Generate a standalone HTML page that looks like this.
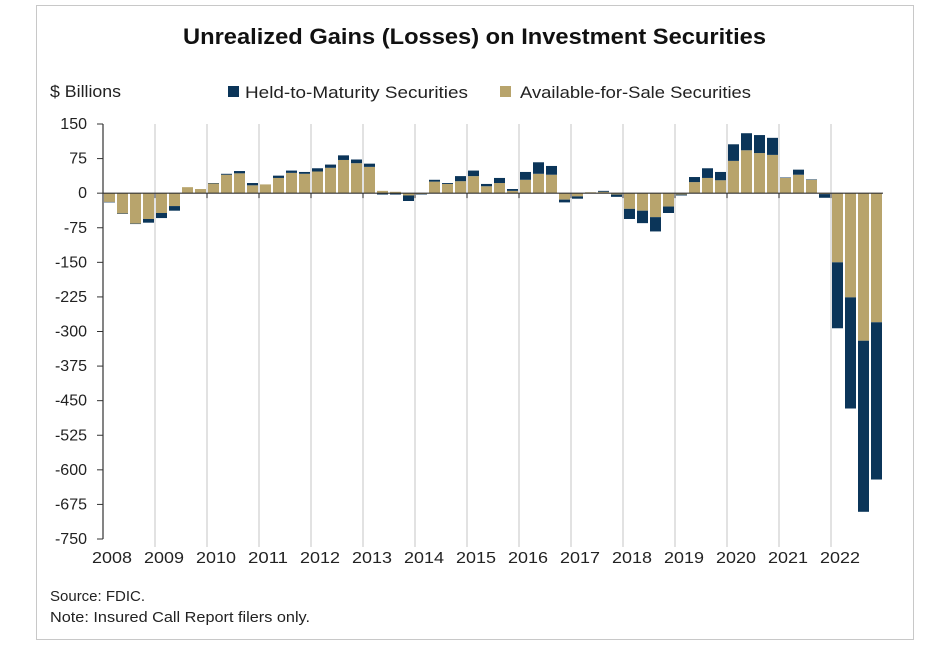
<!DOCTYPE html>
<html><head><meta charset="utf-8">
<style>
body{margin:0;background:#fff;font-family:"Liberation Sans",sans-serif;}
#wrap{position:relative;width:936px;height:652px;overflow:hidden;}
#frame{position:absolute;left:36px;top:5px;width:876px;height:633px;border:1px solid #c8c8c8;}
</style></head>
<body>
<div id="wrap">
<div id="frame"></div>
<svg id="chart" width="936" height="652" style="position:absolute;left:0;top:0">
<text x="183" y="44" textLength="583" lengthAdjust="spacingAndGlyphs" font-size="22" font-weight="bold" fill="#111">Unrealized Gains (Losses) on Investment Securities</text>
<text x="50" y="97" textLength="71" lengthAdjust="spacingAndGlyphs" font-size="17" fill="#222">$ Billions</text>
<rect x="228" y="86" width="11" height="11" fill="#0b3559"/>
<text x="245" y="98" textLength="223" lengthAdjust="spacingAndGlyphs" font-size="17" fill="#222">Held-to-Maturity Securities</text>
<rect x="500" y="86" width="11" height="11" fill="#b8a46c"/>
<text x="520" y="98" textLength="231" lengthAdjust="spacingAndGlyphs" font-size="17" fill="#222">Available-for-Sale Securities</text>
<text x="50" y="601" font-size="15" fill="#222">Source: FDIC.</text>
<text x="50" y="622" textLength="260" lengthAdjust="spacingAndGlyphs" font-size="15" fill="#222">Note: Insured Call Report filers only.</text>
<g id="plot"></g>
</svg>
</div>
<script>
const years=["2008","2009","2010","2011","2012","2013","2014","2015","2016","2017","2018","2019","2020","2021","2022"];
const yTicks=[150,75,0,-75,-150,-225,-300,-375,-450,-525,-600,-675,-750];
const afs=[-19,-44,-66,-56,-43,-28,13,9,21,40,43,17,19,33,44,42,47,55,72,65,57,5,3,-5,-2,25,20,26,37,15,22,5,29,42,40,-14,-7,2,3,-3,-34,-38,-52,-29,-3,24,33,28,70,93,87,83,33,40,29,-2,-150,-226,-320,-280];
const htm=[-1,-1,-1,-8,-11,-10,0,0,1,2,5,5,0,5,5,4,7,7,10,8,7,-3,-3,-12,-1,4,2,11,12,5,11,4,17,25,19,-6,-5,0,2,-5,-22,-27,-31,-14,-2,11,21,18,36,37,39,37,1,11,1,-8,-143,-241,-371,-341];
const NS="http://www.w3.org/2000/svg";
const g=document.getElementById('plot');
const x0=103,x1=883,yTop=124,yBot=539,vMax=150,vMin=-750;
const bw=(x1-x0)/afs.length;
function yS(v){return yTop+(vMax-v)*(yBot-yTop)/(vMax-vMin);}
function xS(i){return x0+i*bw;}
function mk(tag,attrs){const e=document.createElementNS(NS,tag);for(const k in attrs)e.setAttribute(k,attrs[k]);g.appendChild(e);return e;}
years.forEach((yr,j)=>{
  const gx=xS(j*4);
  if(j>0){const l=mk('line',{x1:gx,x2:gx,y1:yTop,y2:yBot+8,stroke:'#d9d9d9','stroke-width':1.5});
  
  }
  const t=mk('text',{x:gx+9,y:563,'text-anchor':'middle','font-size':16,fill:'#222',textLength:40,lengthAdjust:'spacingAndGlyphs'});
  t.textContent=yr;
  
  
});
yTicks.forEach(v=>{
  const y=yS(v);
  const t=mk('text',{x:87,y:y+5,'text-anchor':'end','font-size':16,fill:'#222'});
  t.textContent=v;
  
  
  const tk=mk('line',{x1:x0-6,x2:x0,y1:y,y2:y,stroke:'#333','stroke-width':1});
  
  
});
const ya=mk('line',{x1:x0,x2:x0,y1:yTop,y2:yBot,stroke:'#333','stroke-width':1.2});


afs.forEach((a,i)=>{
  const h=htm[i];const bx=xS(i)+1;const w=bw-2;
  let pos=0,neg=0;
  function seg(v,color,name){
    let from,to;
    if(v>=0){from=pos;to=pos+v;pos=to;}else{from=neg;to=neg+v;neg=to;}
    const ya=yS(Math.max(from,to)),yb=yS(Math.min(from,to));
    const r=mk('rect',{x:bx,y:ya,width:w,height:Math.max(0,yb-ya),fill:color});
    
    
  }
  seg(a,'#b8a46c','bar-afs');
  seg(h,'#0b3559','bar-htm');
});
const xa=mk('line',{x1:x0,x2:x1,y1:yS(0),y2:yS(0),stroke:'#333','stroke-width':1.2});


years.forEach((yr,j)=>{
  const gx=xS(j*4);
  const tk=mk('line',{x1:gx,x2:gx,y1:yS(0),y2:yS(0)+5,stroke:'#333','stroke-width':1});
  
  
});
</script>
</body></html>
